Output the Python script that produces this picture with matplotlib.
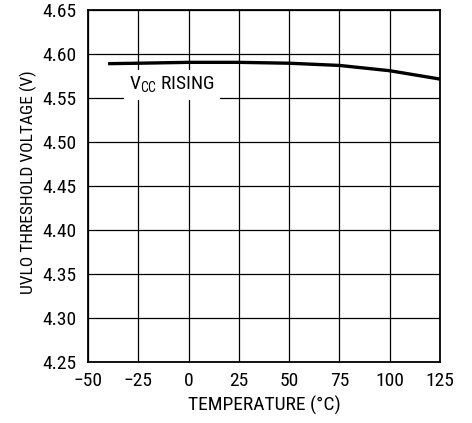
import matplotlib
matplotlib.use("Agg")
import matplotlib.pyplot as plt
from matplotlib import font_manager

names = {f.name for f in font_manager.fontManager.ttflist}
fam = ["Liberation Sans Narrow", "Roboto Condensed", "Liberation Sans", "DejaVu Sans"]
fam = [f for f in fam if f in names] + ["DejaVu Sans"]
plt.rcParams['font.family'] = fam

temp = [-40, -25, 0, 25, 50, 75, 100, 125]
volt = [4.589, 4.5895, 4.5905, 4.5905, 4.5895, 4.587, 4.581, 4.5715]
xticks = [-50, -25, 0, 25, 50, 75, 100, 125]
xticklabels = ["\u221250", "\u221225", "0", "25", "50", "75", "100", "125"]
yticks = [4.25, 4.30, 4.35, 4.40, 4.45, 4.50, 4.55, 4.60, 4.65]

fig = plt.figure(figsize=(4.72, 4.23), dpi=100)
ax = fig.add_axes([0.1864, 0.1442, 0.7456, 0.8322])
ax.set_xlim(-50, 125)
ax.set_ylim(4.25, 4.65)
ax.set_xticks(xticks)
ax.set_xticklabels(xticklabels)
ax.set_yticks(yticks)
ax.set_yticklabels([f"{v:.2f}" for v in yticks])
ax.grid(True, color="black", linewidth=0.9)
ax.tick_params(axis="x", length=0, labelsize=14, pad=7)
ax.tick_params(axis="y", length=0, labelsize=14, pad=8)
for s in ax.spines.values():
    s.set_linewidth(1.3)
ax.plot(temp, volt, color="black", linewidth=2.4, solid_capstyle="butt")
ax.text(-8.2, 4.559, r"V$_{\mathregular{CC}}$ RISING", fontsize=14, ha="center", va="baseline",
        bbox=dict(facecolor="white", edgecolor="none", boxstyle="square,pad=0.25"))
ax.set_xlabel("TEMPERATURE (\u00b0C)", fontsize=14, va="center")
ax.xaxis.set_label_coords(0.5, -0.124)
ax.set_ylabel("UVLO THRESHOLD VOLTAGE (V)", fontsize=12.5, va="center")
ax.yaxis.set_label_coords(-0.168, 0.51)
fig.savefig("out.png", dpi=100)
